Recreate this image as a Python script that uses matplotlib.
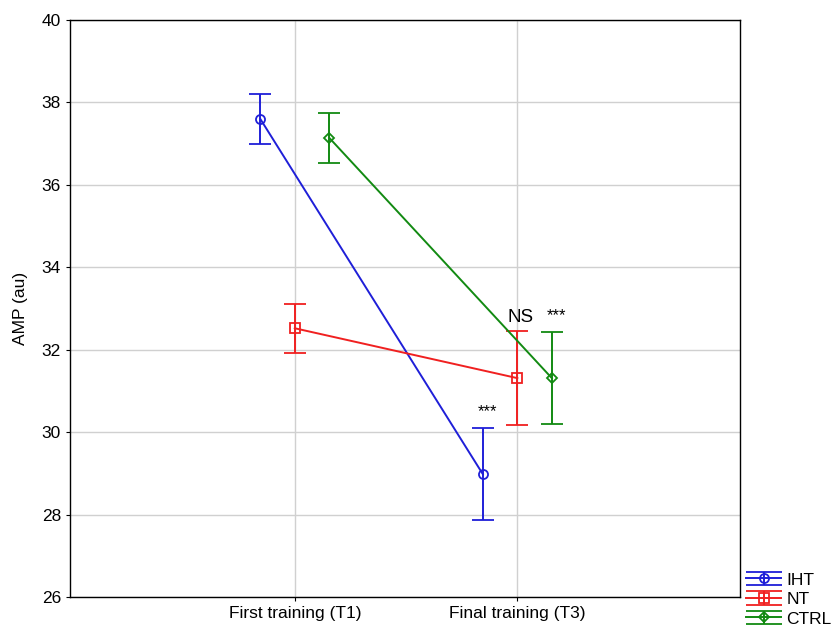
import matplotlib
matplotlib.use("Agg")
import matplotlib.pyplot as plt
import numpy as np
from matplotlib.container import ErrorbarContainer
from matplotlib.legend_handler import HandlerErrorbar

categories = ["First training (T1)", "Final training (T3)"]
groups = ["IHT", "NT", "CTRL"]
means = {
    "IHT": [37.60, 28.98],
    "NT": [32.52, 31.31],
    "CTRL": [37.14, 31.31],
}
errs = {
    "IHT": [0.61, 1.12],
    "NT": [0.60, 1.14],
    "CTRL": [0.61, 1.12],
}
annotations = [("IHT", 1, "***"), ("NT", 1, "NS"), ("CTRL", 1, "***")]

colors = {"IHT": "#1f1fd8", "NT": "#f02020", "CTRL": "#128a12"}
markers = {"IHT": "o", "NT": "s", "CTRL": "D"}
msizes = {"IHT": 6.5, "NT": 6.5, "CTRL": 5.5}
offsets = {"IHT": -0.155, "NT": 0.0, "CTRL": 0.155}

plt.rcParams['font.family'] = ['Liberation Sans', 'DejaVu Sans']
fig = plt.figure(figsize=(8.37, 6.28), dpi=100)
ax = fig.add_axes([0.0836, 0.0494, 0.8004, 0.9188])

x = np.arange(len(categories))
handles = []
for g in groups:
    xs = x + offsets[g]
    h = ax.errorbar(xs, means[g], yerr=errs[g], color=colors[g], marker=markers[g],
                    markersize=msizes[g], markerfacecolor='none', markeredgecolor=colors[g],
                    markeredgewidth=1.3, linewidth=1.4, capsize=8, capthick=1.4,
                    elinewidth=1.4, label=g, zorder=3)
    handles.append(h)

for g, i, txt in annotations:
    xp = x[i] + offsets[g]
    yp = means[g][i] + errs[g][i]
    if txt == "NS":
        ax.text(xp + 0.015, yp + 0.12, txt, ha='center', va='bottom', fontsize=13.5)
    else:
        ax.text(xp + 0.02, yp + 0.22, txt, ha='center', va='bottom', fontsize=12)

ax.set_xlim(-1.01, 2.0)
ax.set_ylim(26, 40)
ax.set_xticks(x)
ax.set_xticklabels(categories, fontsize=12.5)
ax.set_yticks(np.arange(26, 41, 2))
ax.tick_params(axis='y', labelsize=12.5, length=3)
ax.tick_params(axis='x', length=3)
ax.set_ylabel("AMP (au)", fontsize=12.5)
ax.yaxis.set_label_coords(-0.063, 0.5)
ax.grid(True, color='#d0d0d0', linewidth=1)
ax.set_axisbelow(True)
for s in ax.spines.values():
    s.set_color('black')
    s.set_linewidth(1)


class WideCapHandler(HandlerErrorbar):
    def create_artists(self, legend, orig_handle, xdescent, ydescent, width, height, fontsize, trans):
        arts = super().create_artists(legend, orig_handle, xdescent, ydescent, width, height, fontsize, trans)
        for a in arts:
            try:
                if a.get_marker() == '_':
                    a.set_markersize(26)
            except Exception:
                pass
        return arts


fig.legend(handles=handles, labels=groups, loc='lower right', bbox_to_anchor=(1.008, -0.017),
           frameon=False, fontsize=12.5, handlelength=2.0, handletextpad=0.3,
           labelspacing=0.25, borderpad=0.2,
           handler_map={ErrorbarContainer: WideCapHandler(xerr_size=0.5, yerr_size=0.4)})

fig.savefig("out.png", dpi=100)
